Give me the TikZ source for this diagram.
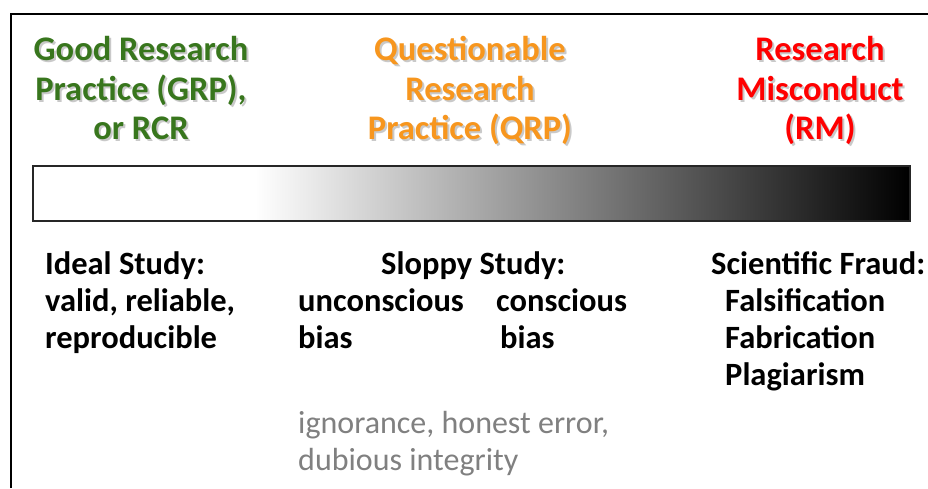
\documentclass[tikz,border=0pt]{standalone}
\usepackage{fontspec}
\setmainfont{Carlito}
\definecolor{grpgreen}{RGB}{56,118,29}
\definecolor{qrporange}{RGB}{247,150,30}
\definecolor{rmred}{RGB}{255,0,0}
\definecolor{graytext}{RGB}{128,128,128}
\begin{document}
\begin{tikzpicture}[x=1pt,y=-1pt,
  head/.style={anchor=base,inner sep=0pt,font=\fontsize{34.5}{40}\selectfont\bfseries},
  hshadow/.style={head,text=black!35,opacity=0.6},
  body/.style={anchor=base west,inner sep=0pt,font=\fontsize{32.5}{38}\selectfont\bfseries},
  note/.style={anchor=base west,inner sep=0pt,text=graytext,font=\fontsize{32}{38}\selectfont}]
\useasboundingbox (0,0) rectangle (928,488);
\fill[white] (0,0) rectangle (928,488);
% frame (left and top edges)
\draw[line width=1.6pt] (11,488) -- (11,14) -- (928,14);
% shadows of headings
\foreach \n/\x/\y/\t in {sg1/141/60/Good Research, sg2/141/100/{Practice (GRP),}, sg3/141/139/or RCR,
  sq1/470/60/Questionable, sq2/470/100/Research, sq3/470/139/Practice (QRP),
  sr1/820/60/Research, sr2/820/100/Misconduct, sr3/820/139/(RM)}
  \node[hshadow] (\n) at (\x+2,\y+2) {\t};
% headings
\node[head,text=grpgreen] (g1) at (141,60) {Good Research};
\node[head,text=grpgreen] (g2) at (141,100) {Practice (GRP),};
\node[head,text=grpgreen] (g3) at (141,139) {or RCR};
\node[head,text=qrporange] (q1) at (470,60) {Questionable};
\node[head,text=qrporange] (q2) at (470,100) {Research};
\node[head,text=qrporange] (q3) at (470,139) {Practice (QRP)};
\node[head,text=rmred] (r1) at (820,60) {Research};
\node[head,text=rmred] (r2) at (820,100) {Misconduct};
\node[head,text=rmred] (r3) at (820,139) {(RM)};
% gradient bar
\fill[white] (33,166) rectangle (255,221);
\shade[left color=white,right color=black] (255,166) rectangle (910,221);
\draw[line width=1.2pt,black!85] (33,166) rectangle (910,221);
% bottom texts
\node[body] (i1) at (45,274) {Ideal Study:};
\node[body] (i2) at (45,311) {valid, reliable,};
\node[body] (i3) at (45,348) {reproducible};
\node[body] (s1) at (381,274) {Sloppy Study:};
\node[body] (s2) at (298,311) {unconscious};
\node[body] (s3) at (298,348) {bias};
\node[body] (s4) at (496,311) {conscious};
\node[body] (s5) at (500,348) {bias};
\node[body] (f1) at (711,274) {Scientific Fraud:};
\node[body] (f2) at (725,311) {Falsification};
\node[body] (f3) at (725,348) {Fabrication};
\node[body] (f4) at (725,385) {Plagiarism};
\node[note] (n1) at (298,433) {ignorance, honest error,};
\node[note] (n2) at (298,470) {dubious integrity};
\end{tikzpicture}
\end{document}
